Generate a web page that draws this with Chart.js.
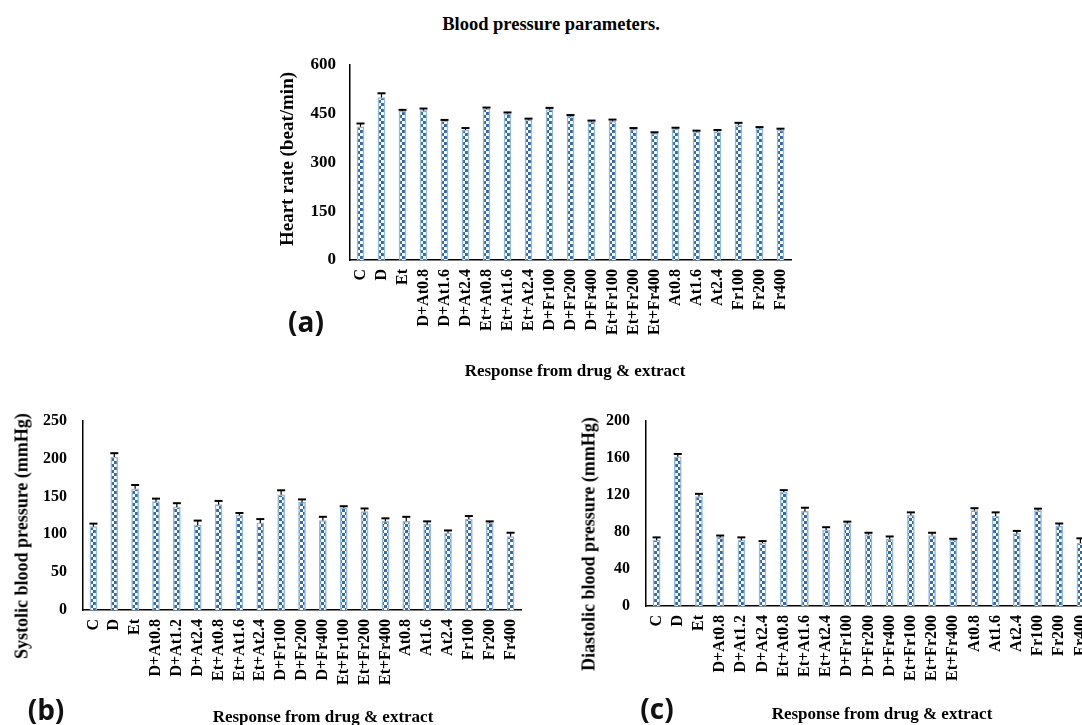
<!DOCTYPE html>
<html>
<head>
<meta charset="utf-8">
<script src="https://cdn.jsdelivr.net/npm/chart.js@4"></script>
<style>
  body { margin: 0; background: #fff; overflow: hidden; width: 1082px; height: 725px; position: relative; }
  canvas { position: absolute; }
  .txt { position: absolute; font-family: 'Liberation Serif', serif; font-weight: bold; color: #000; white-space: nowrap; transform: translate(-50%, -50%); }
  .rot { transform: translate(-50%, -50%) rotate(-90deg); }
  .panel { position: absolute; font-family: 'Open Sans', sans-serif; font-weight: bold; font-size: 28px; color: #111; transform: translate(-50%, -50%); }
</style>
</head>
<body>
<div class="txt" style="left:551px; top:24px; font-size:18.5px;">Blood pressure parameters.</div>

<canvas id="chartA" width="540" height="345" style="left:270px; top:40px;"></canvas>
<canvas id="chartB" width="540" height="330" style="left:0px; top:395px;"></canvas>
<canvas id="chartC" width="540" height="330" style="left:570px; top:395px;"></canvas>

<div class="txt rot" style="left:287px; top:159px; font-size:19px;">Heart rate (beat/min)</div>
<div class="txt" style="left:575px; top:371px; font-size:17px;">Response from drug &amp; extract</div>
<div class="panel" style="left:306px; top:321px;">(a)</div>

<div class="txt rot" style="left:22px; top:536px; font-size:18px;">Systolic blood pressure (mmHg)</div>
<div class="txt" style="left:323px; top:717px; font-size:17px;">Response from drug &amp; extract</div>
<div class="panel" style="left:46px; top:709px;">(b)</div>

<div class="txt rot" style="left:589px; top:544px; font-size:18px;">Diastolic blood pressure (mmHg)</div>
<div class="txt" style="left:882px; top:714px; font-size:17px;">Response from drug &amp; extract</div>
<div class="panel" style="left:657px; top:708px;">(c)</div>

<script>
// group labels (panel a uses D+At1.6, panels b and c use D+At1.2)
var labelsHR = ['C', 'D', 'Et', 'D+At0.8', 'D+At1.6', 'D+At2.4', 'Et+At0.8', 'Et+At1.6', 'Et+At2.4',
    'D+Fr100', 'D+Fr200', 'D+Fr400', 'Et+Fr100', 'Et+Fr200', 'Et+Fr400',
    'At0.8', 'At1.6', 'At2.4', 'Fr100', 'Fr200', 'Fr400'];
var labelsBP = ['C', 'D', 'Et', 'D+At0.8', 'D+At1.2', 'D+At2.4', 'Et+At0.8', 'Et+At1.6', 'Et+At2.4',
    'D+Fr100', 'D+Fr200', 'D+Fr400', 'Et+Fr100', 'Et+Fr200', 'Et+Fr400',
    'At0.8', 'At1.6', 'At2.4', 'Fr100', 'Fr200', 'Fr400'];

// heart rate (beat/min)
var heartRate    = [410, 500, 458, 460, 428, 400, 465, 450, 432, 463, 442, 426, 427, 402, 390, 404, 395, 395, 416, 405, 400];
var heartRateErr = [10, 13, 4, 6, 3, 6, 4, 4, 3, 5, 4, 3, 5, 4, 3, 3, 3, 5, 6, 4, 4];

// systolic blood pressure (mmHg)
var systolic    = [110, 202, 160, 143, 136, 112, 139, 125, 115, 152, 142, 118, 135, 130, 117, 117, 113, 102, 120, 115, 97];
var systolicErr = [4, 5, 5, 4, 5, 6, 5, 3, 5, 6, 4, 5, 2, 4, 4, 6, 4, 3, 4, 2, 5];

// diastolic blood pressure (mmHg)
var diastolic    = [71, 161, 118, 74, 71, 68, 123, 102, 82, 89, 77, 72, 98, 76, 71, 103, 97, 78, 103, 86, 68];
var diastolicErr = [3, 3, 3, 2, 3, 2, 2, 4, 3, 2, 2, 3, 3, 3, 1.5, 2.5, 4, 3, 2, 3, 5];

// y ticks
var ticksHR = { max: 600, step: 150 };
var ticksSys = { max: 250, step: 50 };
var ticksDia = { max: 200, step: 40 };

Chart.defaults.font.family = "'Liberation Serif', 'Times New Roman', serif";
Chart.defaults.font.weight = 'bold';
Chart.defaults.color = '#000';

// checkered fill like the original bars
function checkerPattern() {
    var c = document.createElement('canvas');
    c.width = 6;
    c.height = 6;
    var g = c.getContext('2d');
    g.fillStyle = '#ffffff';
    g.fillRect(0, 0, 6, 6);
    g.fillStyle = '#336aaf';
    g.fillRect(0, 0, 3, 3);
    g.fillRect(3, 3, 3, 3);
    return g.createPattern(c, 'repeat');
}

// upper error bars with a cap
var errorBars = {
    id: 'errorBars',
    afterDatasetsDraw: function (chart) {
        var ds = chart.data.datasets[0];
        var meta = chart.getDatasetMeta(0);
        var y = chart.scales.y;
        var ctx = chart.ctx;
        ctx.save();
        ctx.strokeStyle = '#000';
        meta.data.forEach(function (bar, i) {
            var base = y.getPixelForValue(ds.data[i]);
            var top = y.getPixelForValue(ds.data[i] + ds.errors[i]);
            ctx.lineWidth = 1.2;
            ctx.beginPath();
            ctx.moveTo(bar.x, base);
            ctx.lineTo(bar.x, top);
            ctx.stroke();
            ctx.lineWidth = 2;
            ctx.beginPath();
            ctx.moveTo(bar.x - 4, top);
            ctx.lineTo(bar.x + 4, top);
            ctx.stroke();
        });
        ctx.restore();
    }
};

function makeChart(id, labels, values, errs, ticks, lay) {
    var ctx = document.getElementById(id).getContext('2d');
    return new Chart(ctx, {
        type: 'bar',
        data: {
            labels: labels,
            datasets: [{
                data: values,
                errors: errs,
                backgroundColor: checkerPattern(),
                borderColor: '#8fbbe3',
                borderWidth: 1.5,
                barThickness: 7
            }]
        },
        options: {
            responsive: false,
            animation: false,
            events: [],
            layout: { padding: { top: lay.top, right: 19, bottom: 0, left: 0 } },
            plugins: { legend: { display: false }, tooltip: { enabled: false } },
            scales: {
                x: {
                    grid: { display: false, drawTicks: false },
                    border: { display: true, color: '#000', width: 1.5 },
                    ticks: { autoSkip: false, minRotation: 90, maxRotation: 90, padding: 9, font: { size: 16 } },
                    afterFit: function (s) { s.height = lay.xh; }
                },
                y: {
                    min: 0,
                    max: ticks.max,
                    grid: { display: false, drawTicks: false },
                    border: { display: true, color: '#000', width: 1.5 },
                    ticks: { stepSize: ticks.step, padding: lay.tp, font: { size: lay.fs } },
                    afterFit: function (s) { s.width = lay.yw; }
                }
            }
        },
        plugins: [errorBars]
    });
}

makeChart('chartA', labelsHR, heartRate, heartRateErr, ticksHR, { top: 25, xh: 125, yw: 80, tp: 14, fs: 17 });
makeChart('chartB', labelsBP, systolic, systolicErr, ticksSys, { top: 20, xh: 115, yw: 83, tp: 16, fs: 16 });
makeChart('chartC', labelsBP, diastolic, diastolicErr, ticksDia, { top: 23, xh: 119, yw: 76, tp: 16, fs: 16 });
</script>
</body>
</html>
